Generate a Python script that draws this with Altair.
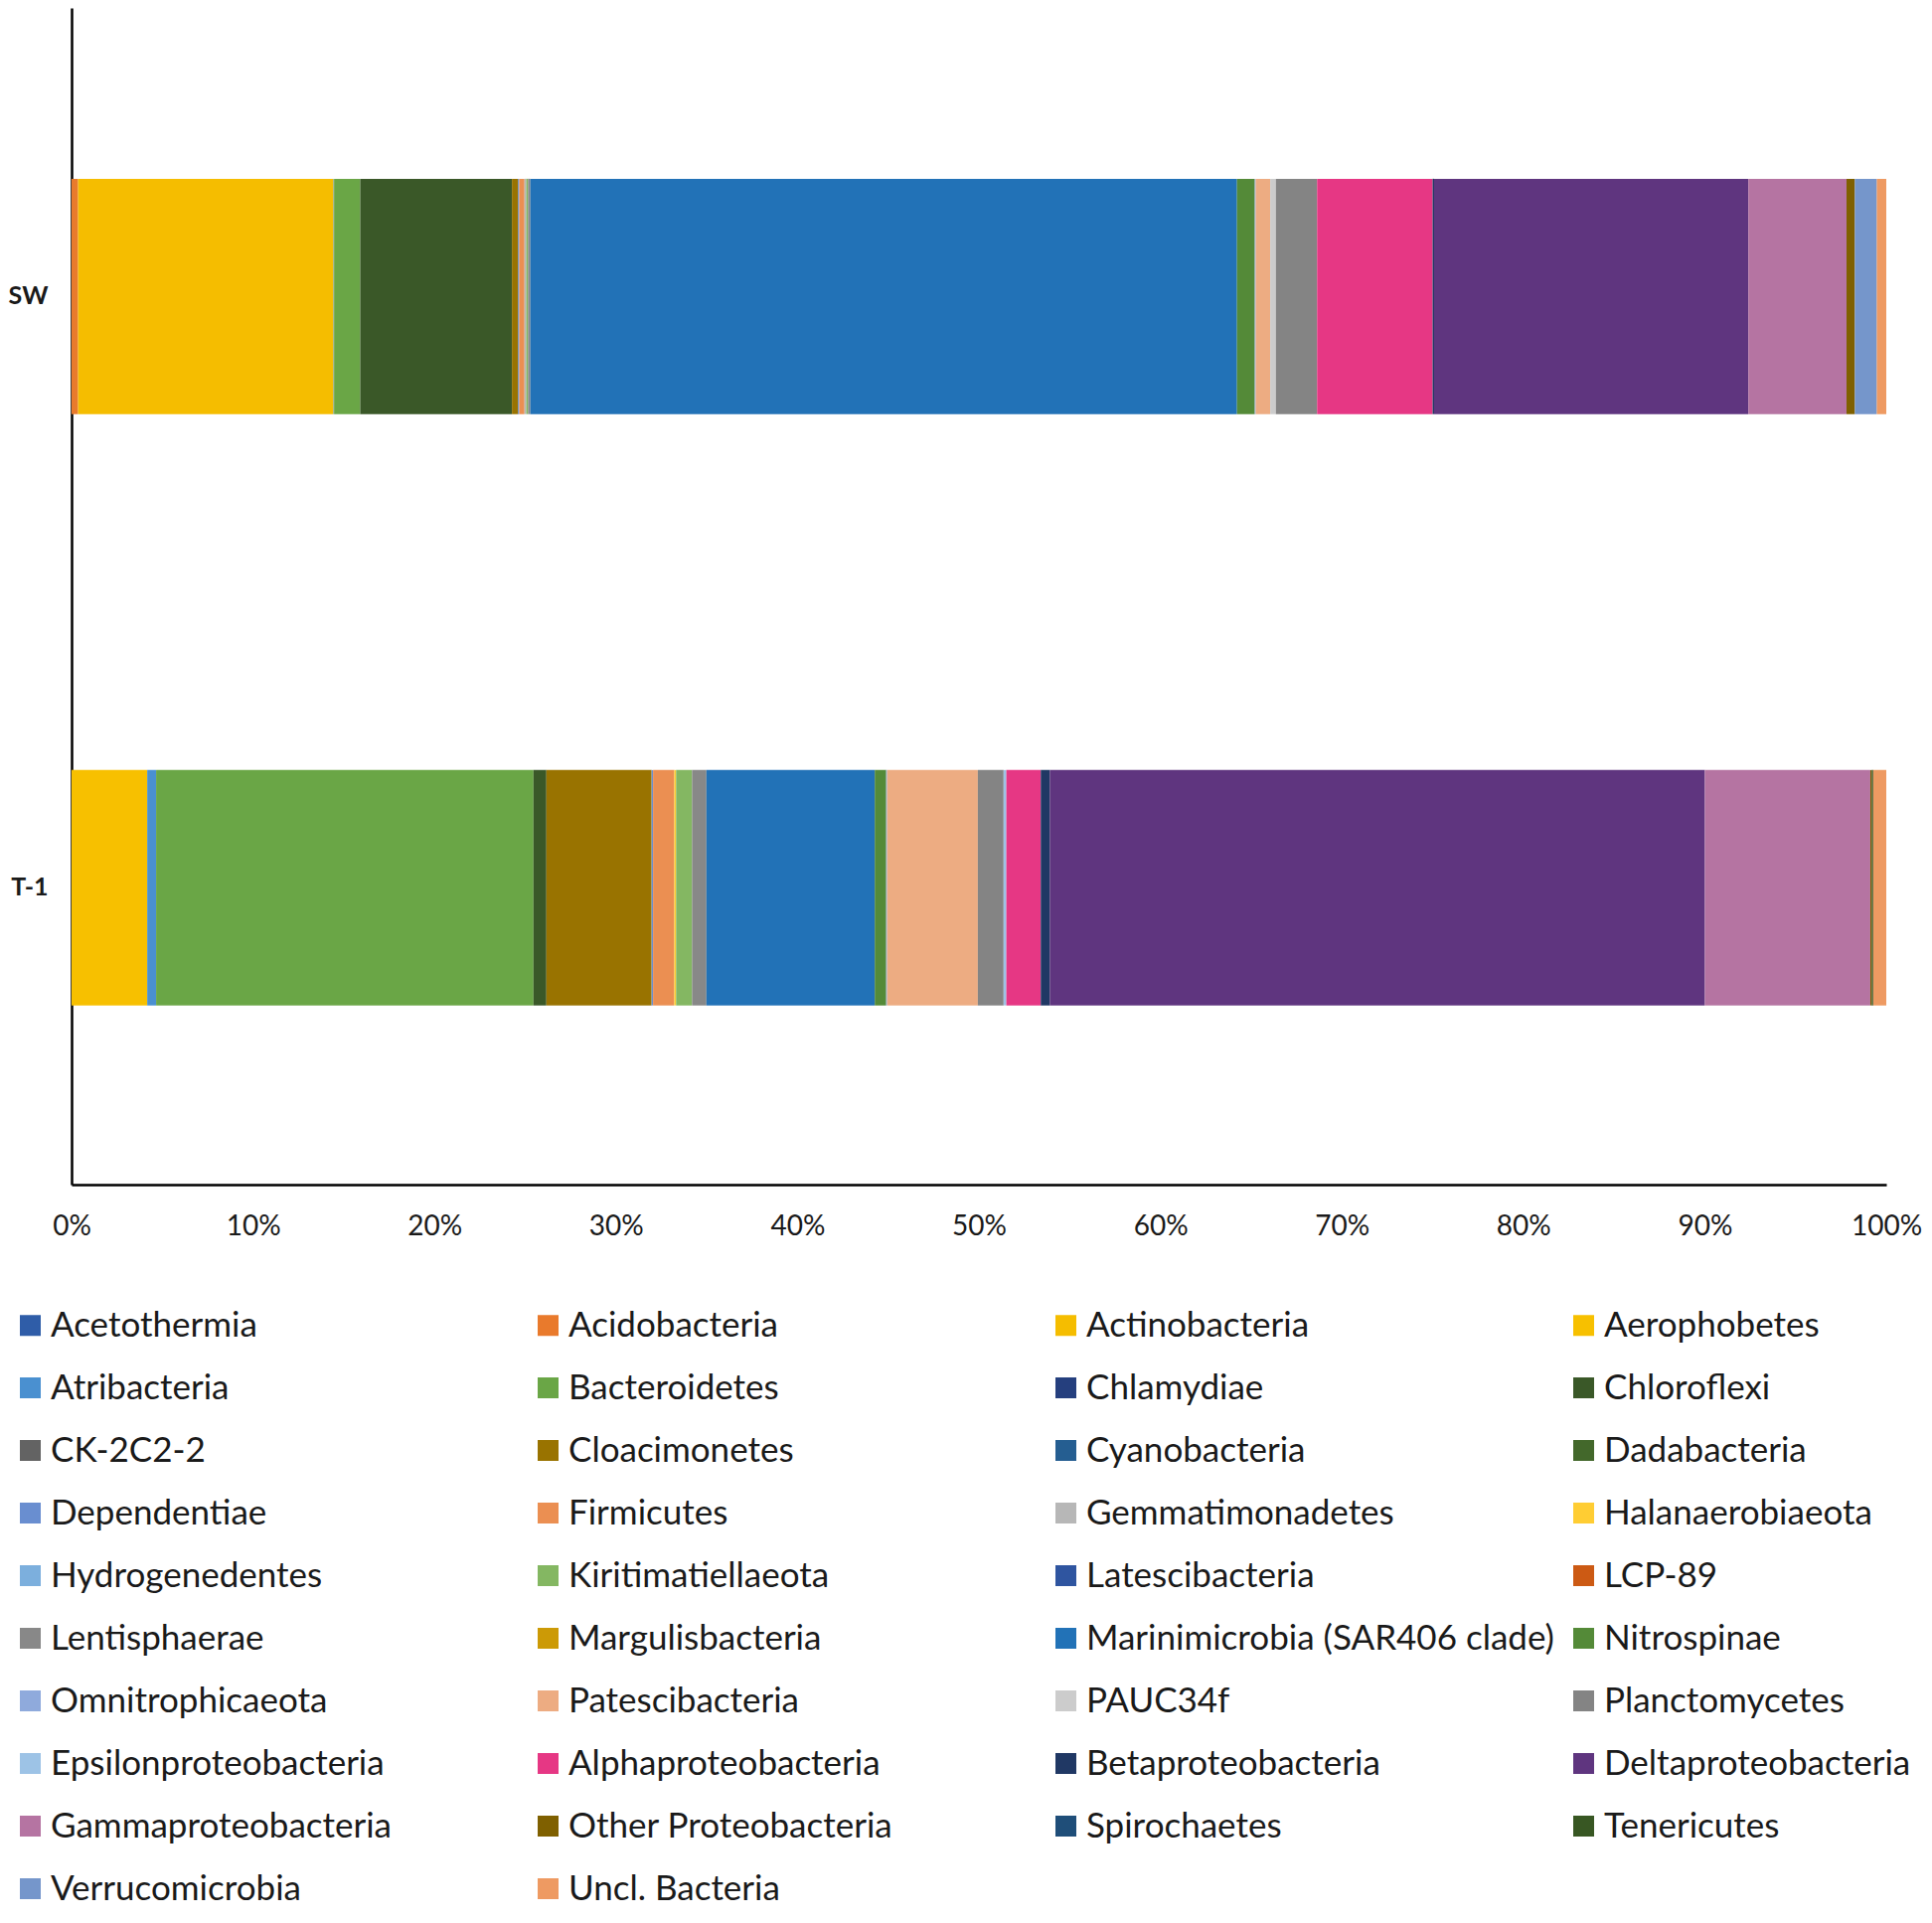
import altair as alt
import pandas as pd

taxa = [
    "Acetothermia", "Acidobacteria", "Actinobacteria", "Aerophobetes",
    "Atribacteria", "Bacteroidetes", "Chlamydiae", "Chloroflexi",
    "CK-2C2-2", "Cloacimonetes", "Cyanobacteria", "Dadabacteria",
    "Dependentiae", "Firmicutes", "Gemmatimonadetes", "Halanaerobiaeota",
    "Hydrogenedentes", "Kiritimatiellaeota", "Latescibacteria", "LCP-89",
    "Lentisphaerae", "Margulisbacteria", "Marinimicrobia (SAR406 clade)", "Nitrospinae",
    "Omnitrophicaeota", "Patescibacteria", "PAUC34f", "Planctomycetes",
    "Epsilonproteobacteria", "Alphaproteobacteria", "Betaproteobacteria", "Deltaproteobacteria",
    "Gammaproteobacteria", "Other Proteobacteria", "Spirochaetes", "Tenericutes",
    "Verrucomicrobia", "Uncl. Bacteria",
]

colors = [
    "#2F5DA8", "#E97A2C", "#F5BD00", "#F7C000",
    "#4A90D0", "#6AA646", "#253F7E", "#3A5828",
    "#636363", "#997300", "#255E91", "#43682B",
    "#698ED0", "#EB8F52", "#B7B7B7", "#FFCD33",
    "#7CAFDD", "#84B762", "#2F55A0", "#CC5A14",
    "#888888", "#CC9A06", "#2272B7", "#548A38",
    "#8FAADC", "#EDAC82", "#CCCCCC", "#848484",
    "#9DC3E6", "#E63784", "#203864", "#5F357F",
    "#B574A2", "#7F6000", "#1F4E79", "#385723",
    "#7596CB", "#EE9A62",
]

samples = ["SW", "T-1"]

sw_values = [
    0, 0.36, 14.06, 0,
    0.03, 1.44, 0, 8.35,
    0, 0.33, 0.03, 0,
    0.04, 0.29, 0.10, 0,
    0, 0.10, 0, 0,
    0.12, 0, 38.9, 0.98,
    0.05, 0.80, 0.31, 2.27,
    0, 6.36, 0.08, 17.3,
    5.4, 0.46, 0, 0,
    1.21, 0.52,
]

t1_values = [
    0, 0, 0, 4.17,
    0.49, 20.8, 0, 0.71,
    0, 5.8, 0, 0,
    0.08, 1.17, 0, 0.10,
    0, 0.88, 0, 0,
    0.79, 0, 9.28, 0.63,
    0.05, 5.0, 0, 1.42,
    0.15, 1.9, 0.5, 36.1,
    9.12, 0.08, 0, 0.08,
    0, 0.72,
]

rows = []
for sample, vals in zip(samples, [sw_values, t1_values]):
    for i, (t, v) in enumerate(zip(taxa, vals)):
        rows.append({"sample": sample, "taxon": t, "value": v, "idx": i})
df = pd.DataFrame(rows)

FONT = "Lato"
TXT = "#1a1a1a"

chart = alt.Chart(df).mark_bar(strokeWidth=0).encode(
    x=alt.X(
        "value:Q",
        stack="normalize",
        scale=alt.Scale(domain=[0, 1], nice=False),
        axis=alt.Axis(
            values=[i / 10 for i in range(11)],
            format=".0%",
            title=None,
            grid=False,
            ticks=False,
            tickSize=0,
            labelFlush=False,
            domainColor="#000000",
            domainWidth=2.5,
            labelFont=FONT,
            labelFontSize=28,
            labelColor=TXT,
            labelPadding=28,
        ),
    ),
    y=alt.Y(
        "sample:N",
        sort=samples,
        scale=alt.Scale(paddingInner=0.602, paddingOuter=0.296, align=0.488),
        axis=alt.Axis(
            title=None,
            ticks=False,
            tickSize=0,
            domainColor="#000000",
            domainWidth=2.5,
            labelFont=FONT,
            labelFontSize=25,
            labelFontWeight="bold",
            labelColor=TXT,
            labelPadding=24,
        ),
    ),
    color=alt.Color(
        "taxon:N",
        scale=alt.Scale(domain=taxa, range=colors),
        legend=alt.Legend(
            title=None,
            orient="none",
            direction="horizontal",
            legendX=-59,
            legendY=1308,
            columns=4,
            gridAlign="all",
            columnPadding=12,
            rowPadding=27,
            symbolLimit=0,
            symbolType="square",
            symbolSize=441,
            symbolStrokeWidth=0,
            labelFont=FONT,
            labelFontSize=35,
            labelColor=TXT,
            labelOffset=3,
            labelLimit=800,
            padding=0,
        ),
    ),
    order=alt.Order("idx:Q", sort="ascending"),
).properties(
    width=1826,
    height=1184,
    autosize=alt.AutoSizeParams(type="none"),
    padding={"left": 64, "top": 0, "right": 38, "bottom": 735},
).configure_view(stroke=None)

chart.save("out.html", embed_options={"renderer": "svg", "actions": False})
